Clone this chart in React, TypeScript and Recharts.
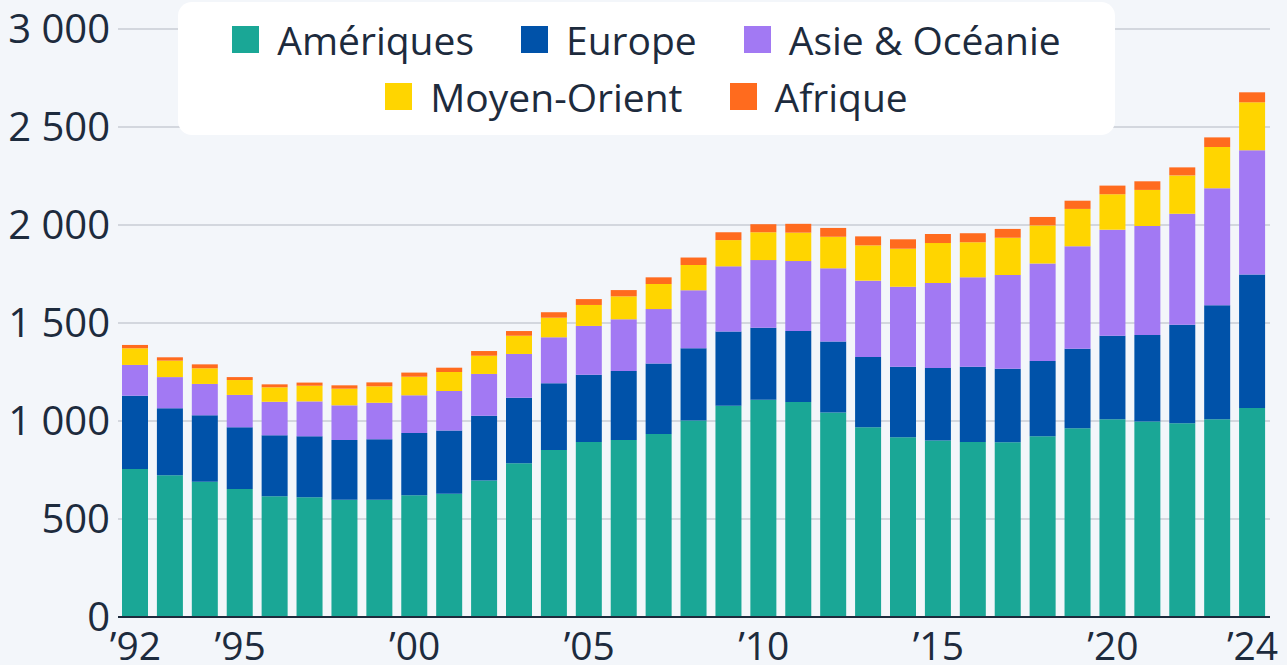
import { Bar, BarChart, CartesianGrid, Legend, XAxis, YAxis } from "recharts";

// Military spending by region, 1992–2024.

const YEARS = [
  "1992", "1993", "1994", "1995", "1996", "1997", "1998", "1999", "2000", "2001", "2002",
  "2003", "2004", "2005", "2006", "2007", "2008", "2009", "2010", "2011", "2012", "2013",
  "2014", "2015", "2016", "2017", "2018", "2019", "2020", "2021", "2022", "2023", "2024",
];

const AMERIQUES = [
  755, 723, 690, 653, 616, 611, 598, 598, 621, 629, 697, 784, 852, 893, 903, 934, 1002,
  1078, 1109, 1097, 1044, 968, 917, 900, 893, 891, 922, 963, 1009, 998, 988, 1009, 1066,
];
const EUROPE = [
  374, 342, 339, 315, 311, 311, 305, 309, 318, 322, 330, 335, 340, 343, 352, 360, 369,
  378, 367, 362, 361, 359, 360, 370, 384, 376, 384, 406, 426, 441, 503, 581, 682,
];
const ASIE = [
  157, 159, 160, 165, 171, 178, 177, 186, 192, 202, 213, 223, 235, 249, 264, 277, 296,
  333, 345, 357, 374, 389, 408, 434, 456, 478, 497, 522, 541, 556, 567, 597, 633,
];
const MOYEN_ORIENT = [
  85, 84, 80, 76, 74, 80, 85, 84, 95, 97, 93, 93, 100, 107, 117, 128, 129,
  134, 142, 145, 161, 180, 194, 204, 179, 190, 195, 191, 181, 184, 195, 211, 245,
];
const AFRIQUE = [
  17, 17, 20, 15, 15, 16, 17, 20, 21, 22, 24, 24, 28, 30, 32, 34, 38,
  40, 41, 45, 45, 46, 48, 46, 46, 45, 43, 42, 44, 44, 41, 49, 51,
];

const Y_TICKS = [0, 500, 1000, 1500, 2000, 2500, 3000];
const X_LABELED = ["1992", "1995", "2000", "2005", "2010", "2015", "2020", "2024"];

const SERIES = [
  { key: "ameriques", name: "Amériques", color: "#1aa796" },
  { key: "europe", name: "Europe", color: "#0052a9" },
  { key: "asie", name: "Asie & Océanie", color: "#a279f3" },
  { key: "moyen", name: "Moyen-Orient", color: "#ffd500" },
  { key: "afrique", name: "Afrique", color: "#ff6b1e" },
];

const DATA = YEARS.map((year, i) => ({
  year,
  ameriques: AMERIQUES[i],
  europe: EUROPE[i],
  asie: ASIE[i],
  moyen: MOYEN_ORIENT[i],
  afrique: AFRIQUE[i],
}));

const TEXT = "#1d2b3d";
const BG = "#f3f6fa";
const FONT = "'Open Sans', sans-serif";

const fmt = (v: number) => v.toLocaleString("fr-FR").replace(/\u202f|\u00a0/g, " ");

function LegendBox() {
  const rows = [SERIES.slice(0, 3), SERIES.slice(3)];
  return (
    <div
      style={{
        background: "#ffffff",
        borderRadius: 14,
        width: 937,
        height: 133,
        boxSizing: "border-box",
        paddingTop: 9,
        fontFamily: FONT,
        color: TEXT,
        fontSize: 39,
        lineHeight: "57px",
      }}
    >
      {rows.map((row, r) => (
        <div
          key={r}
          style={{
            display: "flex",
            justifyContent: "center",
            alignItems: "center",
            gap: 47,
            height: 57,
          }}
        >
          {row.map((s) => (
            <div key={s.key} style={{ display: "flex", alignItems: "center" }}>
              <span
                style={{
                  display: "inline-block",
                  width: 27,
                  height: 27,
                  background: s.color,
                  marginRight: 18,
                }}
              />
              <span>{s.name}</span>
            </div>
          ))}
        </div>
      ))}
    </div>
  );
}

export default function App() {
  return (
    <div
      style={{
        position: "absolute",
        left: 0,
        top: 0,
        width: 1287,
        height: 665,
        background: BG,
        overflow: "hidden",
      }}
    >
      <BarChart
        width={1287}
        height={665}
        data={DATA}
        margin={{ top: 29, right: 17, bottom: 8, left: 8 }}
        style={{ fontFamily: FONT }}
      >
        <CartesianGrid horizontal vertical={false} stroke="#c9cdd4" strokeWidth={1.5} />
        <YAxis
          domain={[0, 3000]}
          ticks={Y_TICKS}
          width={110}
          axisLine={false}
          tickLine={false}
          tickFormatter={(v) => fmt(Number(v))}
          tick={{ fill: TEXT, fontSize: 40 }}
        />
        <XAxis
          dataKey="year"
          height={40}
          interval={0}
          tickLine={false}
          tickMargin={9}
          axisLine={{ stroke: TEXT, strokeWidth: 2 }}
          tickFormatter={(v) => (X_LABELED.includes(v) ? `\u2019${String(v).slice(2)}` : "")}
          tick={{ fill: TEXT, fontSize: 39 }}
        />
        <Legend
          layout="vertical"
          align="center"
          verticalAlign="middle"
          content={() => <LegendBox />}
          wrapperStyle={{ top: 2, left: 178, width: 937, height: 133 }}
        />
        {SERIES.map((s) => (
          <Bar
            key={s.key}
            dataKey={s.key}
            name={s.name}
            stackId="a"
            fill={s.color}
            barSize={26}
            isAnimationActive={false}
          />
        ))}
      </BarChart>
    </div>
  );
}
